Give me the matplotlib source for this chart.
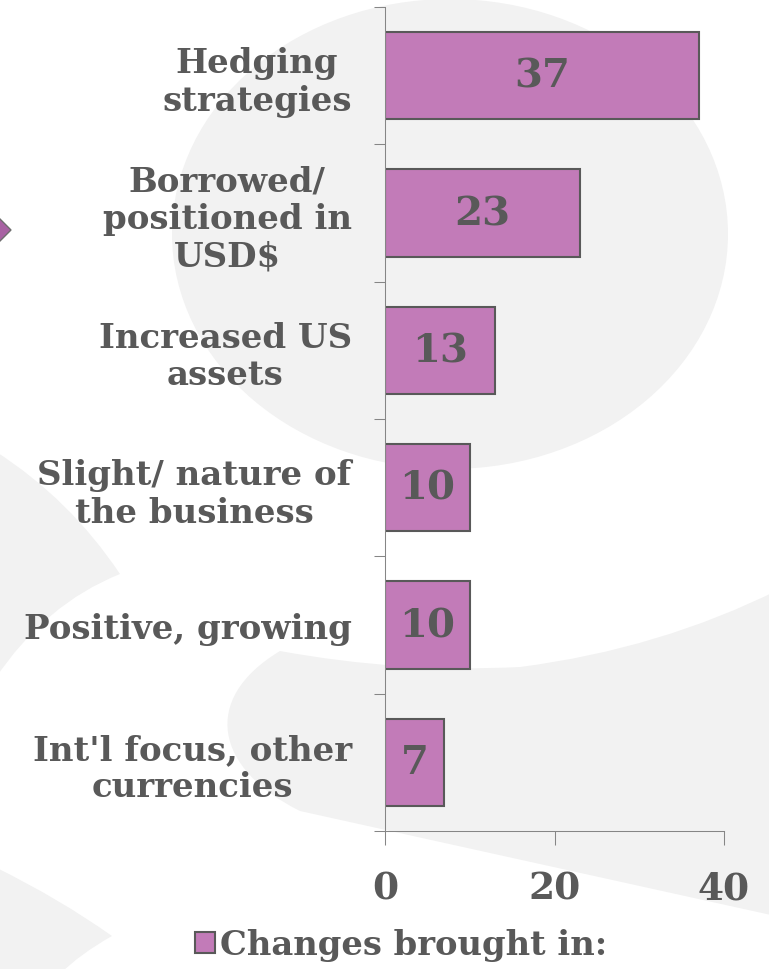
import matplotlib
matplotlib.use("Agg")
import matplotlib.pyplot as plt
import numpy as np
from matplotlib.patches import Ellipse, PathPatch, Polygon
from matplotlib.path import Path

# Survey responses: how firms responded to currency exposure
categories = [
    "Hedging\nstrategies",
    "Borrowed/\npositioned in\nUSD$",
    "Increased US\nassets",
    "Slight/ nature of\nthe business",
    "Positive, growing",
    "Int'l focus, other\ncurrencies",
]
counts = [37, 23, 13, 10, 10, 7]
series_name = "Changes brought in:"
x_ticks = [0, 20, 40]

TEXT = "#595959"
BAR = "#C27BB8"
EDGE = "#595959"
AXIS = "#868686"
WASH = "#F2F2F2"
FONT = "DejaVu Serif"

W, H = 769, 970
fig = plt.figure(figsize=(W / 100, H / 100), dpi=100)
fig.patch.set_facecolor("white")

# decorative watermark shapes behind the chart (pixel space, y downward)
bg = fig.add_axes([0, 0, 1, 1], zorder=0)
bg.set_xlim(0, W)
bg.set_ylim(H, 0)
bg.axis("off")

bg.add_patch(Ellipse((450, 235), 556, 470, facecolor=WASH, edgecolor="none"))

wedge_top = Path(
    [(-5, 452), (70, 500), (120, 575), (45, 605), (-5, 680), (-5, 452)],
    [Path.MOVETO, Path.CURVE3, Path.CURVE3, Path.CURVE3, Path.CURVE3, Path.CLOSEPOLY],
)
bg.add_patch(PathPatch(wedge_top, facecolor=WASH, edgecolor="none"))

wedge_bottom = Path(
    [(-5, 868), (60, 900), (112, 937), (80, 955), (60, 975), (-5, 975), (-5, 868)],
    [Path.MOVETO, Path.CURVE3, Path.CURVE3, Path.CURVE3, Path.CURVE3,
     Path.LINETO, Path.CLOSEPOLY],
)
bg.add_patch(PathPatch(wedge_bottom, facecolor=WASH, edgecolor="none"))

swoosh = Path(
    [(780, 590), (660, 650), (520, 668), (400, 674), (280, 652),
     (200, 700), (215, 770), (300, 812),
     (413, 837), (780, 918), (780, 590)],
    [Path.MOVETO, Path.CURVE3, Path.CURVE3, Path.CURVE3, Path.CURVE3,
     Path.CURVE4, Path.CURVE4, Path.CURVE4,
     Path.LINETO, Path.LINETO, Path.CLOSEPOLY],
)
bg.add_patch(PathPatch(swoosh, facecolor=WASH, edgecolor="none"))

# navigation marker at the left edge
bg.add_patch(Polygon([(11, 231), (-2, 218), (-15, 231), (-2, 244)], closed=True,
                     facecolor="#A862A3", edgecolor="#6E6E6E", linewidth=1.0))

# main bar chart
ax = fig.add_axes([385 / W, 1 - 832 / H, (724 - 385) / W, (832 - 8) / H], zorder=1)
ax.set_facecolor("none")

y = np.arange(len(categories))
bars = ax.barh(y, counts, height=0.635, color=BAR, edgecolor=EDGE, linewidth=1.5,
               label=series_name)
ax.bar_label(bars, labels=[str(v) for v in counts], label_type="center",
             fontsize=29, fontweight="bold", color=TEXT, family=FONT)

ax.set_xlim(0, 40)
ax.set_ylim(len(categories) - 0.5, -0.5)

ax.set_yticks(y)
ax.set_yticklabels(categories)
for lbl in ax.get_yticklabels():
    lbl.set_multialignment("center")
    lbl.set_linespacing(1.17)
    lbl.set_fontsize(24.5)
    lbl.set_fontweight("bold")
    lbl.set_color(TEXT)
    lbl.set_family(FONT)
ax.tick_params(axis="y", which="major", length=0, pad=24)
ax.set_yticks(np.arange(len(categories) + 1) - 0.5, minor=True)
ax.tick_params(axis="y", which="minor", length=8, width=0.75, color=AXIS, direction="out")

ax.set_xticks(x_ticks)
ax.set_xticklabels([str(t) for t in x_ticks])
for lbl in ax.get_xticklabels():
    lbl.set_fontsize(27)
    lbl.set_fontweight("bold")
    lbl.set_color(TEXT)
    lbl.set_family(FONT)
ax.tick_params(axis="x", which="major", length=10, width=0.75, color=AXIS,
               direction="out", pad=18)

for side in ("top", "right"):
    ax.spines[side].set_visible(False)
for side in ("left", "bottom"):
    ax.spines[side].set_color(AXIS)
    ax.spines[side].set_linewidth(0.75)

fig.legend(handles=[bars], labels=[series_name], loc="center",
           bbox_to_anchor=(401 / W, 1 - 946 / H), frameon=False,
           handlelength=0.6, handleheight=0.6, handletextpad=0.15,
           prop={"family": FONT, "weight": "bold", "size": 24.3},
           labelcolor=TEXT)

fig.savefig("out.png", dpi=100, facecolor="white")
